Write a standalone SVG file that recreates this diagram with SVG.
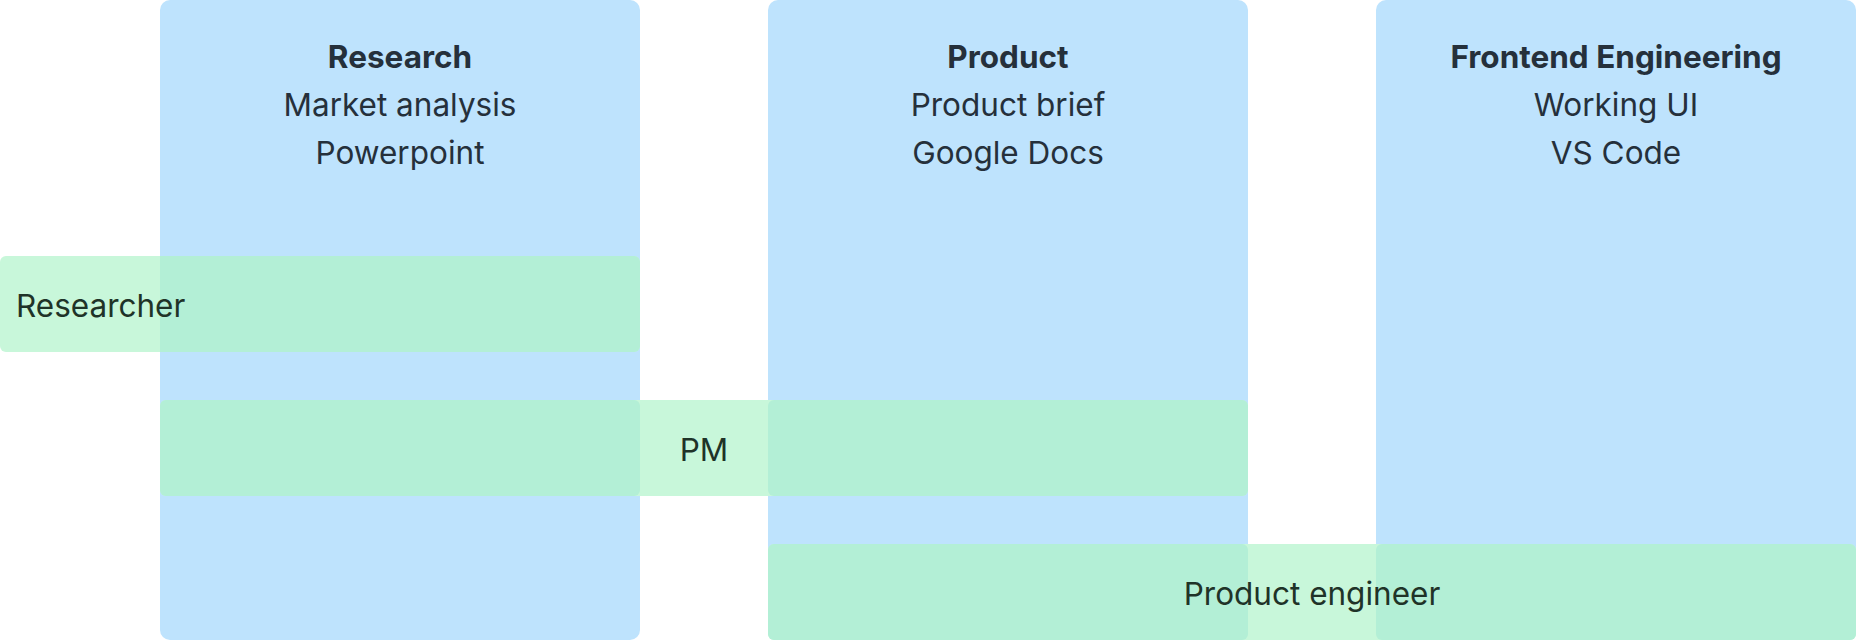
<svg xmlns="http://www.w3.org/2000/svg" width="1856" height="640" viewBox="0 0 1856 640">
<style>
.col{fill:#BEE3FD}
.band{fill:#C8F7DA}
.ov{fill:#B3EFD6}
.t{font-family:Inter,"Liberation Sans",sans-serif;font-size:31.5px;fill:#25303B;text-anchor:middle;dominant-baseline:central}
.b{font-weight:700}
.bt{font-family:Inter,"Liberation Sans",sans-serif;font-size:31.5px;fill:#1F3328;dominant-baseline:central}
</style>
<rect width="1856" height="640" fill="#FFFFFF"/>
<g id="research">
<rect class="col" x="160" y="0" width="480" height="640" rx="10"/>
<text class="t b" x="400" y="56">Research</text>
<text class="t" x="400" y="104">Market analysis</text>
<text class="t" x="400" y="152">Powerpoint</text>
</g>
<g id="product">
<rect class="col" x="768" y="0" width="480" height="640" rx="10"/>
<text class="t b" x="1008" y="56">Product</text>
<text class="t" x="1008" y="104">Product brief</text>
<text class="t" x="1008" y="152">Google Docs</text>
</g>
<g id="frontend">
<rect class="col" x="1376" y="0" width="480" height="640" rx="10"/>
<text class="t b" x="1616" y="56">Frontend Engineering</text>
<text class="t" x="1616" y="104">Working UI</text>
<text class="t" x="1616" y="152">VS Code</text>
</g>
<g id="researcher">
<rect class="band" x="0" y="256" width="640" height="96" rx="6"/>
<rect class="ov" x="160" y="256" width="480" height="96" rx="6"/>
<rect class="ov" x="160" y="256" width="200" height="96"/>
<text class="bt" x="16" y="305">Researcher</text>
</g>
<g id="pm">
<rect class="band" x="160" y="400" width="1088" height="96" rx="6"/>
<rect class="ov" x="160" y="400" width="480" height="96" rx="6"/>
<rect class="ov" x="768" y="400" width="480" height="96" rx="6"/>
<text class="bt" x="704" y="449" text-anchor="middle">PM</text>
</g>
<g id="product-engineer">
<rect class="band" x="768" y="544" width="1088" height="96" rx="6"/>
<rect class="ov" x="768" y="544" width="480" height="96" rx="6"/>
<rect class="ov" x="1376" y="544" width="480" height="96" rx="6"/>
<text class="bt" x="1312" y="593" text-anchor="middle">Product engineer</text>
</g>
<g id="connectors"></g>
</svg>
